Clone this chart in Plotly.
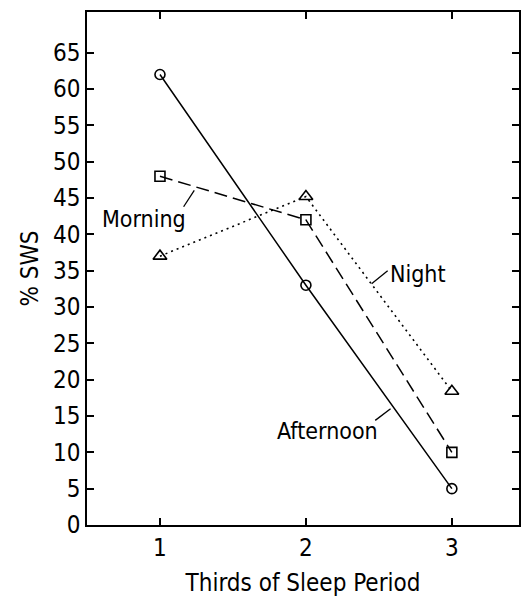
import plotly.graph_objects as go

thirds = [1, 2, 3]
afternoon = [62, 33, 5]
morning = [48, 42, 10]
night = [37, 45.2, 18.4]
y_ticks = list(range(0, 70, 5))
x_ticks = [1, 2, 3]

FONT = "DejaVu Sans Condensed, DejaVu Sans, sans-serif"

fig = go.Figure()
fig.add_trace(go.Scatter(x=thirds, y=afternoon, mode="lines+markers", name="Afternoon",
                         line=dict(color="black", width=1.5, dash="solid"),
                         marker=dict(symbol="circle-open", size=10, color="black", line=dict(width=1.6))))
fig.add_trace(go.Scatter(x=thirds, y=morning, mode="lines+markers", name="Morning",
                         line=dict(color="black", width=1.5, dash="13px,6px"),
                         marker=dict(symbol="square-open", size=10, color="black", line=dict(width=1.6))))
fig.add_trace(go.Scatter(x=thirds, y=night, mode="lines+markers", name="Night",
                         line=dict(color="black", width=1.6, dash="2px,4px"),
                         marker=dict(symbol="triangle-up-open", size=12, color="black", line=dict(width=1.6))))

# leader lines for labels
leaders = [
    ([1.162, 1.235], [43.8, 46.05]),
    ([2.45, 2.56], [33.2, 35.0]),
    ([2.475, 2.58], [14.4, 16.0]),
]
for lx, ly in leaders:
    fig.add_trace(go.Scatter(x=lx, y=ly, mode="lines", line=dict(color="black", width=1.3),
                             hoverinfo="skip", showlegend=False))

labels = [("Morning", 0.888, 42.1), ("Night", 2.77, 34.5), ("Afternoon", 2.148, 13.0)]
for txt, lx, ly in labels:
    fig.add_annotation(x=lx, y=ly, text=txt, showarrow=False,
                       font=dict(family=FONT, size=23, color="black"))

axis_common = dict(showline=True, linecolor="black", linewidth=1.6, mirror="ticks",
                   ticks="inside", ticklen=7, tickwidth=1.5, tickcolor="black",
                   showgrid=False, zeroline=False,
                   tickfont=dict(family=FONT, size=24, color="black"))

fig.update_xaxes(range=[0.5, 3.46], tickvals=x_ticks, ticktext=[str(v) for v in x_ticks],
                 title=dict(text="Thirds of Sleep Period", font=dict(family=FONT, size=24, color="black"),
                            standoff=14),
                 **axis_common)
fig.update_yaxes(range=[0, 70.6], tickvals=y_ticks, ticktext=[str(v) for v in y_ticks],
                 title=dict(text="% SWS", font=dict(family=FONT, size=24, color="black"), standoff=8),
                 **axis_common)

# page body has an 8px default margin, so the figure is sized/offset to compensate
fig.update_layout(width=522, height=595, margin=dict(l=79, r=11, t=2, b=78),
                  paper_bgcolor="white", plot_bgcolor="white", showlegend=False)

fig.write_html("out.html")
